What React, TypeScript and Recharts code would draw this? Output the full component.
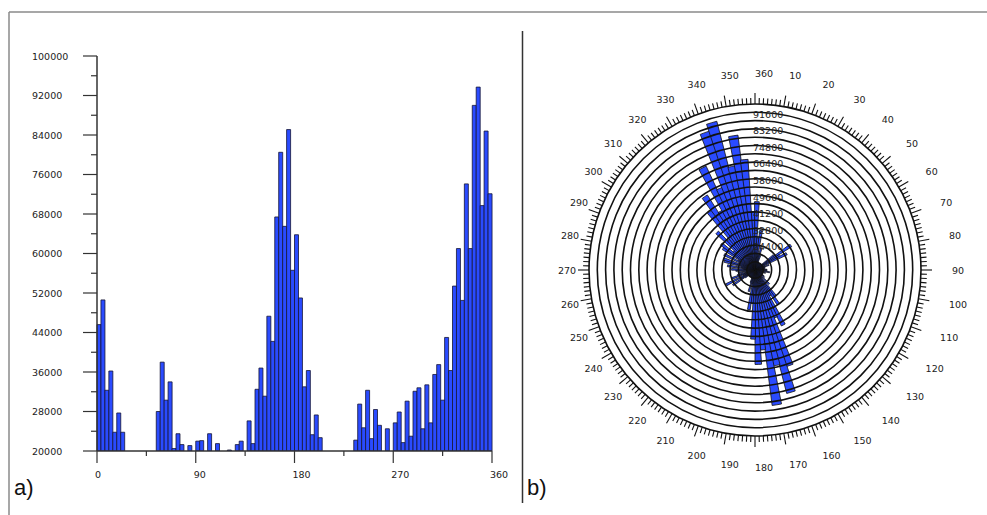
import React from 'react';
import {
  BarChart,
  Bar,
  XAxis,
  YAxis,
  RadialBarChart,
  RadialBar,
  PolarAngleAxis,
  PolarRadiusAxis,
  PolarGrid,
} from 'recharts';

// ---------- data ----------
const BIN_WIDTH = 3.6;
// histogram counts, one per 3.6° bin (0..360); 20000 = empty (axis floor)
const counts = [
  45600, 50600, 32300, 36200, 23800, 27700, 23800, 20000, 20000, 20000,
  20000, 20000, 20000, 20000, 20000, 28000, 38000, 30300, 34000, 20500,
  23500, 21300, 20000, 21100, 20000, 22000, 22100, 20000, 23500, 20000,
  21500, 20000, 20000, 20200, 20000, 21300, 22000, 20000, 26100, 21500,
  32500, 36800, 31100, 47300, 42200, 67400, 80500, 65500, 85100, 56600,
  63800, 51000, 33000, 36300, 23300, 27300, 22700, 20000, 20000, 20000,
  20000, 20000, 20000, 20000, 20000, 22200, 29500, 24700, 32300, 22500,
  28400, 25200, 20000, 24500, 20000, 25700, 27900, 21700, 30100, 23000,
  32100, 32800, 24500, 33400, 25700, 35500, 37500, 30300, 43000, 36300,
  53400, 61000, 50500, 74100, 61000, 90000, 93700, 69700, 84800, 72100,
];
const binStarts = counts.map((_, i) => +(i * BIN_WIDTH).toFixed(1));

const histYTicks = [
  20000, 24000, 28000, 32000, 36000, 40000, 44000, 48000, 52000, 56000, 60000,
  64000, 68000, 72000, 76000, 80000, 84000, 88000, 92000, 96000, 100000,
];
const histYLabels = [20000, 28000, 36000, 44000, 52000, 60000, 68000, 76000, 84000, 92000, 100000];
const histXTicks = [0, 45, 90, 135, 180, 225, 270, 315, 360];
const histXLabels = [0, 90, 180, 270, 360];

const roseCircles = [
  20200, 24400, 28600, 32800, 37000, 41200, 45400, 49600, 53800, 58000,
  62200, 66400, 70600, 74800, 79000, 83200, 87400, 91600, 95800, 100000,
];
const roseLabels = [24400, 32800, 41200, 49600, 58000, 66400, 74800, 83200, 91600];
const compassTicks = Array.from({ length: 252 }, (_, k) => ((k + 1) * 10) / 7);

const histData = binStarts.map((b, i) => ({ bin: b, center: b + BIN_WIDTH / 2, value: counts[i] }));

// ---------- style ----------
const BLUE = '#2a4bff';
const FONT = 'DejaVu Sans, Verdana, sans-serif';
const ROSE_CX = 233;
const ROSE_CY = 270;
const ROSE_R = 166;
const RAD = Math.PI / 180;

const HistYTick = (props: any) => {
  const { x, y, payload } = props;
  const v = payload.value;
  const major = histYLabels.includes(v);
  return (
    <g>
      <line x1={x - (major ? 14 : 6)} x2={x} y1={y} y2={y} stroke="#333" strokeWidth={1.2} />
      {major && (
        <text x={x - 65} y={y + 3.5} fontSize={9.5} fill="#222" fontFamily={FONT}>
          {v}
        </text>
      )}
    </g>
  );
};

const HistXTick = (props: any) => {
  const { x, y, payload } = props;
  const v = payload.value;
  const major = histXLabels.includes(v);
  return (
    <g>
      <line x1={x} x2={x} y1={y} y2={y + (major ? 12 : 5)} stroke="#333" strokeWidth={1.2} />
      {major && (
        <text x={x - 2} y={y + 27} fontSize={9.5} fill="#222" fontFamily={FONT}>
          {v}
        </text>
      )}
    </g>
  );
};

const RoseRadiusTick = (props: any) => {
  const { x, y, payload } = props;
  const v = payload.value;
  if (!roseLabels.includes(v)) return <g />;
  return (
    <text x={x - 2} y={y - 3} fontSize={9.5} fill="#222" fontFamily={FONT} textAnchor="start">
      {v}
    </text>
  );
};

const CompassTick = (props: any) => {
  const { payload, x, y } = props;
  const v = payload.value;
  let c: number;
  let s: number;
  if (typeof payload.coordinate === 'number' && !isNaN(payload.coordinate)) {
    c = Math.cos(-payload.coordinate * RAD);
    s = Math.sin(-payload.coordinate * RAD);
  } else {
    const dx = x - ROSE_CX;
    const dy = y - ROSE_CY;
    const n = Math.hypot(dx, dy) || 1;
    c = dx / n;
    s = dy / n;
  }
  const isLong = Math.abs(v / 10 - Math.round(v / 10)) < 1e-6;
  const len = isLong ? 11 : 6;
  const r1 = ROSE_R;
  const r2 = ROSE_R + len;
  const rl = 197;
  return (
    <g>
      <line
        x1={ROSE_CX + r1 * c}
        y1={ROSE_CY + r1 * s}
        x2={ROSE_CX + r2 * c}
        y2={ROSE_CY + r2 * s}
        stroke="#111"
        strokeWidth={1.1}
      />
      {isLong && (
        <text
          x={ROSE_CX + rl * c}
          y={ROSE_CY + rl * s + 3.5}
          fontSize={9.5}
          fill="#222"
          fontFamily={FONT}
          textAnchor="start"
        >
          {Math.round(v)}
        </text>
      )}
    </g>
  );
};

const abs = (l: number, t: number, w: number, h: number): React.CSSProperties => ({
  position: 'absolute',
  left: l,
  top: t,
  width: w,
  height: h,
});

export default function App() {
  return (
    <div style={{ ...abs(0, 0, 987, 515), background: '#fff', overflow: 'hidden', fontFamily: FONT }}>
      {/* figure frame, divider and panel letters */}
      <svg style={abs(0, 0, 987, 515)} width={987} height={515}>
        <line x1={9} y1={12} x2={987} y2={12} stroke="#8a8a8a" strokeWidth={1.5} />
        <line x1={9} y1={12} x2={9} y2={515} stroke="#8a8a8a" strokeWidth={1.5} />
        <line x1={522.5} y1={31} x2={522.5} y2={503} stroke="#333" strokeWidth={1.5} />
        <text x={14} y={495} fontSize={22} fontFamily="Liberation Sans, Arial, sans-serif" fill="#111">
          a)
        </text>
        <text x={527} y={495} fontSize={22} fontFamily="Liberation Sans, Arial, sans-serif" fill="#111">
          b)
        </text>
      </svg>

      {/* a) histogram */}
      <div style={abs(0, 0, 520, 515)}>
        <BarChart
          width={520}
          height={515}
          data={histData}
          margin={{ top: 56, right: 28, bottom: 24, left: 0 }}
          barCategoryGap={0}
          barGap={0}
        >
          <XAxis xAxisId="cat" dataKey="bin" type="category" hide height={0} />
          <XAxis
            xAxisId="deg"
            dataKey="center"
            type="number"
            domain={[0, 360]}
            allowDataOverflow
            ticks={histXTicks}
            interval={0}
            height={40}
            tickSize={0}
            tickMargin={0}
            tickLine={false}
            axisLine={{ stroke: '#333', strokeWidth: 1.5 }}
            tick={<HistXTick />}
          />
          <XAxis
            xAxisId="top"
            orientation="top"
            dataKey="bin"
            height={0}
            tick={false}
            tickLine={false}
            axisLine={{ stroke: '#7a7a7a', strokeWidth: 1.5 }}
          />
          <YAxis
            yAxisId="left"
            domain={[20000, 100000]}
            allowDataOverflow
            ticks={histYTicks}
            interval={0}
            width={97}
            tickSize={0}
            tickMargin={0}
            tickLine={false}
            axisLine={{ stroke: '#333', strokeWidth: 1.5 }}
            tick={<HistYTick />}
          />
          <YAxis
            yAxisId="right"
            orientation="right"
            domain={[20000, 100000]}
            width={0}
            tick={false}
            tickLine={false}
            axisLine={{ stroke: '#7a7a7a', strokeWidth: 1.5 }}
          />
          <Bar
            xAxisId="cat"
            yAxisId="left"
            dataKey="value"
            fill={BLUE}
            stroke="#151535"
            strokeWidth={0.8}
            isAnimationActive={false}
          />
        </BarChart>
      </div>

      {/* b) rose diagram: bars */}
      <div style={abs(522, 0, 465, 515)}>
        <RadialBarChart
          width={465}
          height={515}
          data={histData}
          layout="centric"
          cx={ROSE_CX}
          cy={ROSE_CY}
          innerRadius={0}
          outerRadius={ROSE_R}
          startAngle={90}
          endAngle={-270}
          barCategoryGap={0}
          barGap={0}
          margin={{ top: 0, right: 0, bottom: 0, left: 0 }}
        >
          <PolarAngleAxis type="category" dataKey="bin" tick={false} tickLine={false} axisLine={false} />
          <PolarRadiusAxis type="number" domain={[16000, 100000]} allowDataOverflow tick={false} axisLine={false} />
          <RadialBar dataKey="value" fill={BLUE} stroke="#111" strokeWidth={0.8} isAnimationActive={false} />
        </RadialBarChart>
      </div>

      {/* b) rose diagram: circles + radial labels */}
      <div style={{ ...abs(522, 0, 465, 515), pointerEvents: 'none' }}>
        <RadialBarChart
          width={465}
          height={515}
          data={histData}
          layout="centric"
          cx={ROSE_CX}
          cy={ROSE_CY}
          innerRadius={0}
          outerRadius={ROSE_R}
          startAngle={90}
          endAngle={-270}
          margin={{ top: 0, right: 0, bottom: 0, left: 0 }}
        >
          <PolarGrid gridType="circle" radialLines={false} stroke="#111" strokeWidth={1.6} />
          <PolarAngleAxis type="category" dataKey="bin" tick={false} tickLine={false} axisLine={false} />
          <PolarRadiusAxis
            type="number"
            angle={90}
            domain={[16000, 100000]}
            allowDataOverflow
            ticks={roseCircles}
            tick={<RoseRadiusTick />}
            tickLine={false}
            axisLine={false}
          />
        </RadialBarChart>
      </div>

      {/* b) rose diagram: compass ring */}
      <div style={{ ...abs(522, 0, 465, 515), pointerEvents: 'none' }}>
        <RadialBarChart
          width={465}
          height={515}
          data={histData}
          cx={ROSE_CX}
          cy={ROSE_CY}
          innerRadius={0}
          outerRadius={ROSE_R}
          startAngle={90}
          endAngle={-270}
          margin={{ top: 0, right: 0, bottom: 0, left: 0 }}
        >
          <PolarAngleAxis
            type="number"
            dataKey="center"
            domain={[0, 360]}
            allowDataOverflow
            ticks={compassTicks}
            tick={<CompassTick />}
            tickLine={false}
            axisLine={false}
          />
          <PolarRadiusAxis type="category" dataKey="bin" tick={false} axisLine={false} />
          <RadialBar
            dataKey="center"
            fill="none"
            fillOpacity={0}
            stroke="none"
            isAnimationActive={false}
          />
        </RadialBarChart>
      </div>
    </div>
  );
}
